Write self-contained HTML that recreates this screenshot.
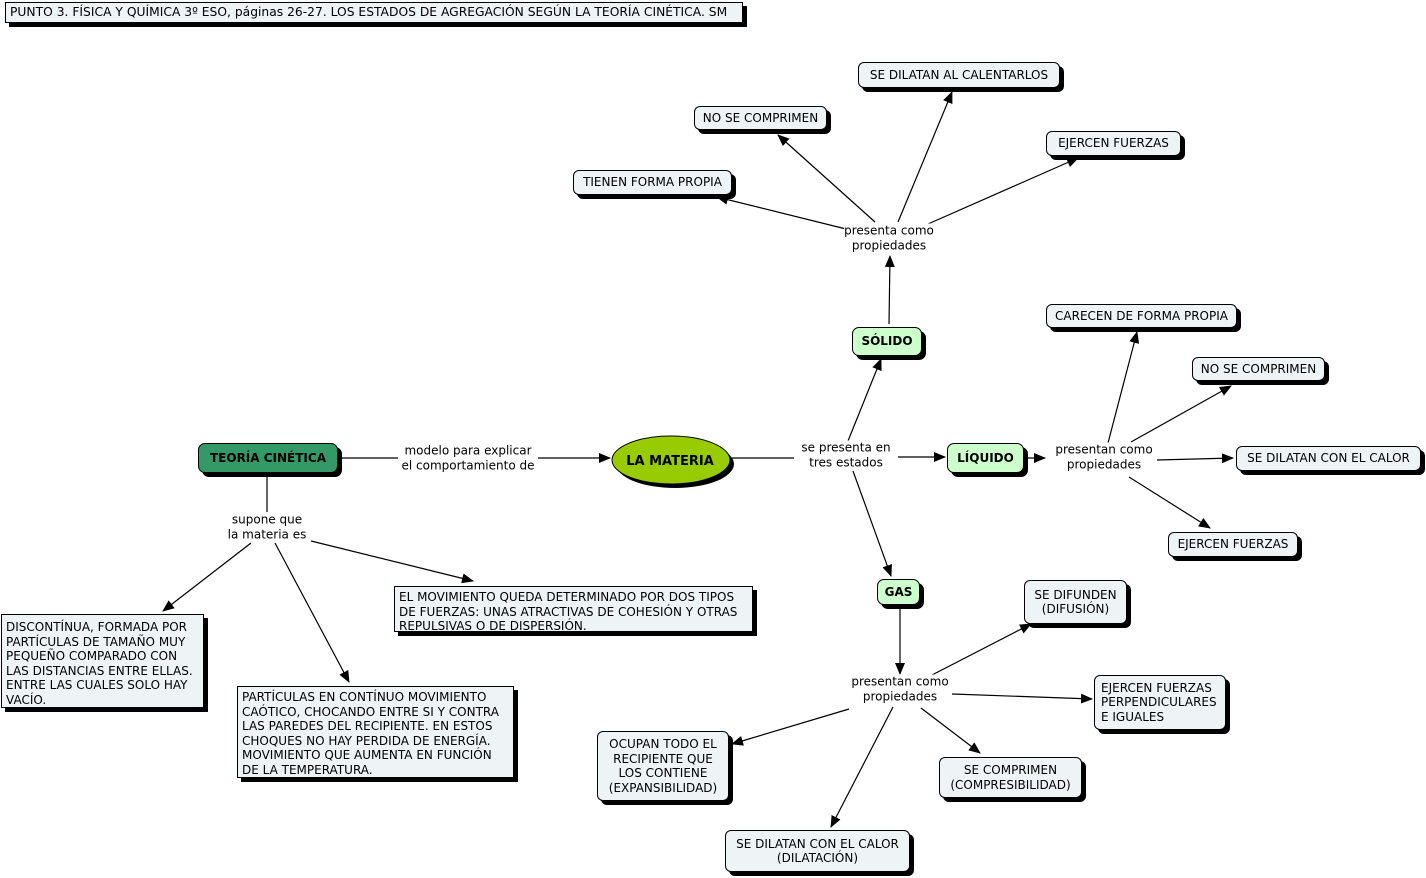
<!DOCTYPE html>
<html><head><meta charset="utf-8">
<style>
body{margin:0;width:1426px;height:878px;background:#fff;position:relative;overflow:hidden;font-family:"DejaVu Sans","Liberation Sans",sans-serif;font-size:12px;color:#000}
.n{position:absolute;box-sizing:border-box;border:1px solid #000;background:#eef3f5;box-shadow:4px 4px 0 #000;border-radius:6px;text-align:center;line-height:14.5px;display:flex;align-items:center;justify-content:center;white-space:nowrap}
.sq{border-radius:0;text-align:left;justify-content:flex-start;align-items:flex-start;padding:3px 4px;white-space:normal}
.g{background:#ccffcc;font-weight:bold;border-radius:7px}
.l{position:absolute;text-align:center;line-height:14.5px;background:#fff;white-space:nowrap;transform:translate(-50%,-50%)}
svg{position:absolute;left:0;top:0}
</style></head><body>
<svg width="1426" height="878">
<defs><marker id="a" markerWidth="12" markerHeight="10" refX="11" refY="5" orient="auto" markerUnits="userSpaceOnUse"><path d="M0,0 L12,5 L0,10 z" fill="#000"/></marker></defs>
<g stroke="#000" stroke-width="1.2" fill="none">
<line x1="338" y1="458" x2="398" y2="458"/>
<line x1="538" y1="458" x2="610" y2="458" marker-end="url(#a)"/>
<line x1="732" y1="458" x2="794" y2="458"/>
<line x1="898" y1="457" x2="945" y2="457" marker-end="url(#a)"/>
<line x1="848" y1="441" x2="881" y2="359" marker-end="url(#a)"/>
<line x1="853" y1="471" x2="891" y2="576" marker-end="url(#a)"/>
<line x1="889" y1="324" x2="890" y2="256" marker-end="url(#a)"/>
<line x1="846" y1="229" x2="717" y2="197" marker-end="url(#a)"/>
<line x1="875" y1="222" x2="778" y2="135" marker-end="url(#a)"/>
<line x1="898" y1="222" x2="952" y2="92" marker-end="url(#a)"/>
<line x1="928" y1="224" x2="1078" y2="158" marker-end="url(#a)"/>
<line x1="1026" y1="458" x2="1045" y2="458" marker-end="url(#a)"/>
<line x1="1108" y1="443" x2="1137" y2="332" marker-end="url(#a)"/>
<line x1="1131" y1="442" x2="1231" y2="386" marker-end="url(#a)"/>
<line x1="1157" y1="460" x2="1233" y2="458" marker-end="url(#a)"/>
<line x1="1129" y1="477" x2="1210" y2="528" marker-end="url(#a)"/>
<line x1="900" y1="607" x2="900" y2="674" marker-end="url(#a)"/>
<line x1="932" y1="675" x2="1031" y2="624" marker-end="url(#a)"/>
<line x1="952" y1="694" x2="1092" y2="699" marker-end="url(#a)"/>
<line x1="921" y1="708" x2="980" y2="753" marker-end="url(#a)"/>
<line x1="893" y1="707" x2="831" y2="827" marker-end="url(#a)"/>
<line x1="849" y1="709" x2="732" y2="744" marker-end="url(#a)"/>
<line x1="267" y1="475" x2="267" y2="512"/>
<line x1="251" y1="543" x2="163" y2="611" marker-end="url(#a)"/>
<line x1="275" y1="543" x2="349" y2="682" marker-end="url(#a)"/>
<line x1="311" y1="541" x2="473" y2="581" marker-end="url(#a)"/>
</g>
<ellipse cx="675" cy="464" rx="59" ry="24" fill="#000"/>
<ellipse cx="671" cy="460" rx="59" ry="24" fill="#99cc00" stroke="#000" stroke-width="1"/>
<text x="670" y="465" text-anchor="middle" font-family="DejaVu Sans, sans-serif" font-weight="bold" font-size="13">LA MATERIA</text>
</svg>

<div class="n sq" style="left:5px;top:2px;width:738px;height:21px;padding:2px 4px;font-size:12.3px;white-space:nowrap;font-family:'DejaVu Sans',sans-serif;overflow:hidden">PUNTO 3. FÍSICA Y QUÍMICA 3º ESO, páginas 26-27. LOS ESTADOS DE AGREGACIÓN SEGÚN LA TEORÍA CINÉTICA. SM</div>

<div class="n g" style="left:198px;top:443px;width:140px;height:30px;background:#339966">TEORÍA CINÉTICA</div>
<div class="n g" style="left:852px;top:327px;width:70px;height:29px">SÓLIDO</div>
<div class="n g" style="left:947px;top:443px;width:77px;height:30px">LÍQUIDO</div>
<div class="n g" style="left:877px;top:579px;width:43px;height:26px">GAS</div>

<div class="n" style="left:573px;top:170px;width:159px;height:25px">TIENEN FORMA PROPIA</div>
<div class="n" style="left:694px;top:106px;width:133px;height:24px">NO SE COMPRIMEN</div>
<div class="n" style="left:858px;top:62px;width:202px;height:26px">SE DILATAN AL CALENTARLOS</div>
<div class="n" style="left:1046px;top:131px;width:135px;height:25px">EJERCEN FUERZAS</div>
<div class="n" style="left:1046px;top:304px;width:191px;height:24px">CARECEN DE FORMA PROPIA</div>
<div class="n" style="left:1192px;top:357px;width:133px;height:24px">NO SE COMPRIMEN</div>
<div class="n" style="left:1236px;top:446px;width:185px;height:25px">SE DILATAN CON EL CALOR</div>
<div class="n" style="left:1168px;top:532px;width:130px;height:25px">EJERCEN FUERZAS</div>
<div class="n" style="left:1024px;top:580px;width:103px;height:44px">SE DIFUNDEN<br>(DIFUSIÓN)</div>
<div class="n" style="left:1094px;top:675px;width:132px;height:55px;justify-content:flex-start;text-align:left;padding-left:6px">EJERCEN FUERZAS<br>PERPENDICULARES<br>E IGUALES</div>
<div class="n" style="left:939px;top:757px;width:143px;height:41px">SE COMPRIMEN<br>(COMPRESIBILIDAD)</div>
<div class="n" style="left:725px;top:830px;width:185px;height:42px">SE DILATAN CON EL CALOR<br>(DILATACIÓN)</div>
<div class="n" style="left:597px;top:731px;width:132px;height:70px">OCUPAN TODO EL<br>RECIPIENTE QUE<br>LOS CONTIENE<br>(EXPANSIBILIDAD)</div>

<div class="n sq" style="left:394px;top:586px;width:359px;height:46px">EL MOVIMIENTO QUEDA DETERMINADO POR DOS TIPOS DE FUERZAS: UNAS ATRACTIVAS DE COHESIÓN Y OTRAS REPULSIVAS O DE DISPERSIÓN.</div>
<div class="n sq" style="left:1px;top:614px;width:203px;height:94px;padding-top:5px">DISCONTÍNUA, FORMADA POR PARTÍCULAS DE TAMAÑO MUY PEQUEÑO COMPARADO CON LAS DISTANCIAS ENTRE ELLAS. ENTRE LAS CUALES SOLO HAY VACÍO.</div>
<div class="n sq" style="left:237px;top:686px;width:277px;height:92px">PARTÍCULAS EN CONTÍNUO MOVIMIENTO CAÓTICO, CHOCANDO ENTRE SI Y CONTRA LAS PAREDES DEL RECIPIENTE. EN ESTOS CHOQUES NO HAY PERDIDA DE ENERGÍA. MOVIMIENTO QUE AUMENTA EN FUNCIÓN DE LA TEMPERATURA.</div>

<div class="l" style="left:468px;top:458px">modelo para explicar<br>el comportamiento de</div>
<div class="l" style="left:846px;top:455px">se presenta en<br>tres estados</div>
<div class="l" style="left:889px;top:238px">presenta como<br>propiedades</div>
<div class="l" style="left:1104px;top:457px">presentan como<br>propiedades</div>
<div class="l" style="left:900px;top:689px">presentan como<br>propiedades</div>
<div class="l" style="left:267px;top:527px">supone que<br>la materia es</div>
</body></html>
